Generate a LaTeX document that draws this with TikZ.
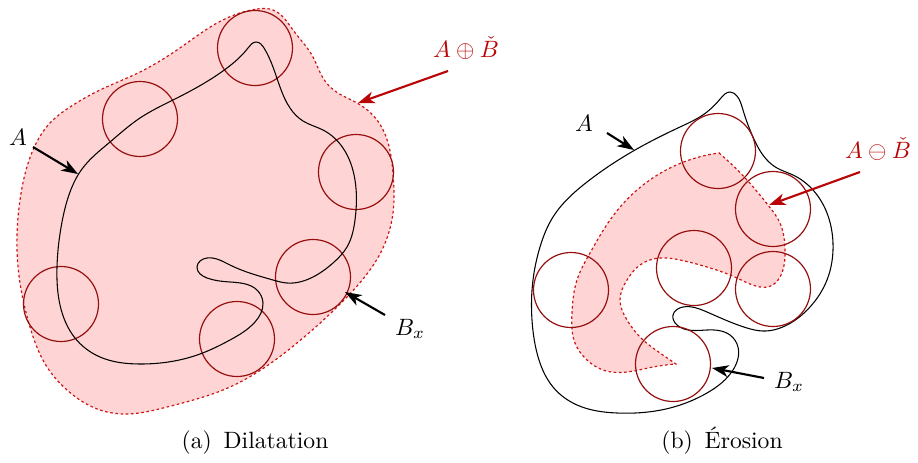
\documentclass[tikz,border=0pt]{standalone}
\usetikzlibrary{arrows.meta,hobby}
\definecolor{pinkfill}{RGB}{255,212,212}
\definecolor{circred}{RGB}{150,15,15}
\definecolor{labred}{RGB}{185,5,5}
\definecolor{dashred}{RGB}{205,20,20}
\tikzset{
  shapeA/.style={draw=black, line width=0.45pt},
  probe/.style={draw=circred, line width=0.5pt},
  region/.style={fill=pinkfill, draw=dashred, line width=0.5pt, dash pattern=on 1.1pt off 1.1pt},
  blackarrow/.style={-{Stealth[length=7pt,width=5pt,inset=2pt]}, line width=0.9pt, black},
  redarrow/.style={-{Stealth[length=7pt,width=5pt,inset=2pt]}, line width=0.9pt, labred},
  lab/.style={anchor=base, inner sep=0pt},
}
\begin{document}
\begin{tikzpicture}[x=0.423pt,y=-0.423pt]
\useasboundingbox (0,0) rectangle (918,462);
% ---------- (a) dilatation ----------
\path[region] plot[closed hobby] coordinates {
 (257,9) (273,10) (293,30) (313,57) (323,78) (335,91) (357,103) (377,120)
 (393,173) (393,213) (382,250) (347,297) (297,343)
 (230,387) (167,407) (127,414) (100,410) (67,390) (47,367)
 (30,327) (20,283) (17,250) (20,200) (33,150) (50,123) (70,107) (100,90)
 (140,72) (187,43) (217,23) (240,13)};
\path[probe] (255,48) circle[radius=37.5] (140,119) circle[radius=37.5]
  (356,172) circle[radius=37.5] (313,277) circle[radius=37.5]
  (237,339) circle[radius=37.5] (61,304) circle[radius=37.5];
\path[shapeA] plot[closed hobby] coordinates {
 (256,42) (264,48) (280,87) (290,108) (303,121) (323,130) (343,148) (355,180)
 (355,220) (347,247) (333,263) (313,277) (287,283) (273,280) (230,265) (207,258)
 (197,267) (207,278) (230,282) (257,290) (263,303) (255,322) (230,340) (200,354)
 (140,364) (100,357) (75,338) (60,305) (57,267) (62,222) (70,192) (82,169) (110,142)
 (140,118) (173,100) (227,68) (248,48)};
\node[lab] (la) at (18,145) {$A$};
\coordinate (la1) at (33,147); \coordinate (la2) at (78,174);
\draw[blackarrow] (la1) -- (la2);
\node[lab, text=labred] (ld) at (466,57) {$A\oplus\check{B}$};
\coordinate (ld1) at (448,71); \coordinate (ld2) at (358,103);
\draw[redarrow] (ld1) -- (ld2);
\node[lab] (lb) at (410,335) {$B_x$};
\coordinate (lb1) at (385,315); \coordinate (lb2) at (345,292);
\draw[blackarrow] (lb1) -- (lb2);
\node[lab] (capa) at (255,448) {(a)\enspace Dilatation};
% ---------- (b) erosion ----------
\path[region] (719,153) -- plot[hobby] coordinates {
 (719,153) (747,180) (768,205) (780,223) (785,250) (782,273) (768,287)
 (760,287) (737,278) (707,267) (680,260) (660,258) (640,265)
 (627,280) (620,300) (627,320) (640,337) (660,353) (676,364)}
 -- plot[hobby] coordinates {
 (676,364) (653,367) (627,372) (603,370) (587,360) (575,343) (572,313) (577,280)
 (590,253) (610,220) (637,190) (670,168) (719,153)} -- cycle;
\path[shapeA] plot[closed hobby] coordinates {
 (730,92) (737,96) (743,110) (753,137) (767,160) (777,168) (793,175) (813,190)
 (827,213) (833,243) (827,280) (810,307) (787,325) (763,331) (747,328) (707,312)
 (683,307) (673,315) (677,325) (707,330) (730,335) (738,347) (733,370) (707,393)
 (670,408) (617,413) (577,405) (553,387) (537,353) (532,320) (533,280) (540,247)
 (553,217) (587,182) (635,150) (680,127) (707,112) (721,98)};
\path[probe] (718,151) circle[radius=37.5] (773,209) circle[radius=37.5]
  (694,268) circle[radius=37.5] (773,289) circle[radius=37.5]
  (571,290) circle[radius=37.5] (673,364) circle[radius=37.5];
\node[lab] (lA) at (584,131) {$A$};
\coordinate (lA1) at (607,133); \coordinate (lA2) at (634,150);
\draw[blackarrow] (lA1) -- (lA2);
\node[lab, text=labred] (le) at (878,158) {$A\ominus\check{B}$};
\coordinate (le1) at (860,172); \coordinate (le2) at (769,205);
\draw[redarrow] (le1) -- (le2);
\node[lab] (lB) at (789,388) {$B_x$};
\coordinate (lB1) at (764,378); \coordinate (lB2) at (712,368);
\draw[blackarrow] (lB1) -- (lB2);
\node[lab] (capb) at (722,448) {(b)\enspace \'Erosion};
\end{tikzpicture}
\end{document}
